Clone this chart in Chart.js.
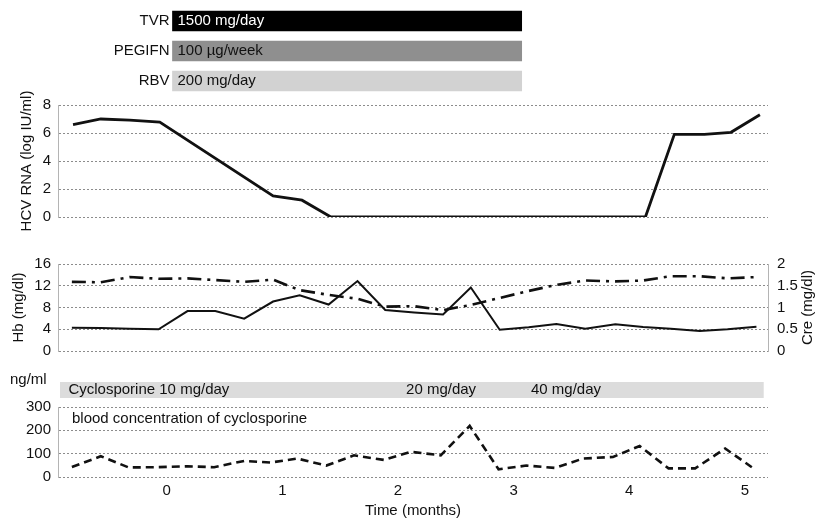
<!DOCTYPE html>
<html>
<head>
<meta charset="utf-8">
<script src="https://cdn.jsdelivr.net/npm/chart.js@4.4.1/dist/chart.umd.min.js"></script>
<style>
  body { margin: 0; background: #fff; }
  #wrap { position: relative; width: 823px; height: 520px; }
  canvas { position: absolute; left: 0; }
</style>
</head>
<body>
<div id="wrap">
  <canvas id="drugs" width="823" height="100" style="top:0px"></canvas>
  <canvas id="hcv" width="823" height="152" style="top:85px"></canvas>
  <canvas id="lab" width="823" height="123" style="top:246px"></canvas>
  <canvas id="dose" width="823" height="30" style="top:372px"></canvas>
  <canvas id="csa" width="823" height="129" style="top:391px"></canvas>
</div>
<script>
// treatment bars (months)
const drugNames = ['TVR', 'PEGIFN', 'RBV'];
const drugDoses = ['1500 mg/day', '100 µg/week', '200 mg/day'];
const drugPeriod = [0.05, 3.07];

// HCV RNA (log IU/ml)
const hcvMonths = [-0.81, -0.57, -0.32, -0.06, 0.92, 1.17, 1.42, 1.9, 2.39, 2.88, 3.37, 3.86, 4.14, 4.39, 4.65, 4.88, 5.13];
const hcvLog = [6.6, 7.0, 6.92, 6.78, 1.5, 1.2, 0, 0, 0, 0, 0, 0, 0, 5.9, 5.9, 6.05, 7.3];

// Hb (mg/dl) and Cre (mg/dl)
const labMonths = [-0.82, -0.57, -0.32, -0.07, 0.18, 0.42, 0.67, 0.92, 1.15, 1.40, 1.65, 1.89, 2.14, 2.39, 2.63, 2.88, 3.13, 3.37, 3.62, 3.88, 4.12, 4.36, 4.61, 4.85, 5.10];
const hbValues = [4.27, 4.25, 4.1, 4.0, 7.34, 7.34, 5.94, 9.1, 10.26, 8.55, 12.86, 7.55, 7.1, 6.7, 11.67, 3.9, 4.37, 4.95, 4.1, 4.9, 4.4, 4.1, 3.7, 4.0, 4.48];
const creValues = [1.59, 1.58, 1.70, 1.66, 1.67, 1.63, 1.59, 1.64, 1.40, 1.29, 1.20, 1.02, 1.03, 0.94, 1.06, 1.22, 1.38, 1.52, 1.62, 1.60, 1.62, 1.72, 1.72, 1.67, 1.70];

// cyclosporine dose and blood concentration (ng/ml)
const csaPeriod = [-0.92, 5.16];
const csaDoseStart = [-0.85, 2.07, 3.15];
const csaDoseLabels = ['Cyclosporine 10 mg/day', '20 mg/day', '40 mg/day'];
const csaMonths = [-0.82, -0.57, -0.33, -0.09, 0.18, 0.41, 0.67, 0.90, 1.13, 1.38, 1.62, 1.88, 2.11, 2.37, 2.62, 2.87, 3.11, 3.36, 3.60, 3.86, 4.09, 4.34, 4.57, 4.83, 5.06];
const csaConc = [43, 89, 41, 42, 46, 42, 69, 62, 79, 49, 93, 73, 108, 93, 219, 33, 49, 39, 79, 86, 133, 37, 37, 122, 42];

const monthTicks = [0, 1, 2, 3, 4, 5];

const FONT = '15px "Liberation Sans", Arial, Helvetica, sans-serif';
Chart.defaults.font.family = '"Liberation Sans", Arial, Helvetica, sans-serif';
Chart.defaults.font.size = 15;
Chart.defaults.color = '#111';

const pts = (xs, ys) => xs.map((x, i) => ({x: x, y: ys[i]}));

function timeAxis(show) {
  return {type: 'linear', min: -0.94, max: 5.2, display: show};
}

function leftAxis(min, max, step, title, titlePad) {
  return {
    min: min, max: max,
    ticks: {stepSize: step, padding: 7, callback: v => String(v)},
    grid: {color: '#8c8c8c', drawTicks: false},
    border: {display: true, color: '#b4b4b4', dash: [2, 2]},
    title: {display: !!title, text: title, padding: {top: titlePad}},
    afterFit: s => { s.width = 58; }
  };
}

// draws plain text on top of a chart
function textPlugin(draw) {
  return {
    id: 'txt',
    afterDraw(chart) {
      const c = chart.ctx;
      c.save();
      c.font = FONT;
      c.fillStyle = '#111';
      c.textBaseline = 'middle';
      draw(chart, c);
      c.restore();
    }
  };
}

const base = {
  responsive: false,
  animation: false,
  plugins: {legend: {display: false}, tooltip: {enabled: false}}
};

// TVR / PEGIFN / RBV
new Chart('drugs', {
  type: 'bar',
  data: {
    labels: drugNames,
    datasets: [{
      data: drugNames.map(() => drugPeriod.slice()),
      backgroundColor: ['#000000', '#8f8f8f', '#d2d2d2'],
      barThickness: 20
    }]
  },
  options: Object.assign({}, base, {
    indexAxis: 'y',
    layout: {padding: {left: 58, right: 55, top: 6, bottom: 4}},
    scales: {x: timeAxis(false), y: {display: false}}
  }),
  plugins: [textPlugin((chart, c) => {
    const x0 = chart.scales.x.getPixelForValue(drugPeriod[0]);
    chart.getDatasetMeta(0).data.forEach((bar, i) => {
      c.textAlign = 'right';
      c.fillStyle = '#111';
      c.fillText(drugNames[i], x0 - 3, bar.y);
      c.textAlign = 'left';
      c.fillStyle = i === 0 ? '#fff' : '#111';
      c.fillText(drugDoses[i], x0 + 5, bar.y);
    });
  })]
});

// HCV RNA
new Chart('hcv', {
  type: 'line',
  data: {
    datasets: [{
      data: pts(hcvMonths, hcvLog),
      borderColor: '#111', borderWidth: 2.8, pointRadius: 0, tension: 0
    }]
  },
  options: Object.assign({}, base, {
    layout: {padding: {left: 0, right: 55, top: 20, bottom: 20}},
    scales: {x: timeAxis(false), y: leftAxis(0, 8, 2, 'HCV RNA (log IU/ml)', 18)}
  })
});

// Hb + Cre
new Chart('lab', {
  type: 'line',
  data: {
    datasets: [{
      data: pts(labMonths, hbValues), yAxisID: 'y',
      borderColor: '#111', borderWidth: 2, pointRadius: 0, tension: 0
    }, {
      data: pts(labMonths, creValues), yAxisID: 'y1',
      borderColor: '#111', borderWidth: 2.6, borderDash: [14, 6, 3, 6], pointRadius: 0, tension: 0
    }]
  },
  options: Object.assign({}, base, {
    layout: {padding: {left: 0, right: 0, top: 10, bottom: 10}},
    scales: {
      x: timeAxis(false),
      y: leftAxis(0, 16, 4, 'Hb (mg/dl)', 10),
      y1: {
        position: 'right', min: 0, max: 2,
        ticks: {stepSize: 0.5, padding: 9, callback: v => String(v)},
        grid: {display: false, drawTicks: false},
        border: {display: true, color: '#b4b4b4'},
        afterFit: s => { s.width = 55; }
      }
    }
  }),
  plugins: [textPlugin((chart, c) => {
    const a = chart.chartArea;
    c.translate(808, (a.top + a.bottom) / 2);
    c.rotate(-Math.PI / 2);
    c.textAlign = 'center';
    c.fillText('Cre (mg/dl)', 0, 0);
  })]
});

// cyclosporine dose band
new Chart('dose', {
  type: 'bar',
  data: {
    labels: [''],
    datasets: [{
      data: [csaPeriod.slice()],
      backgroundColor: '#dcdcdc',
      barPercentage: 1, categoryPercentage: 1
    }]
  },
  options: Object.assign({}, base, {
    indexAxis: 'y',
    layout: {padding: {left: 58, right: 55, top: 10, bottom: 4}},
    scales: {x: timeAxis(false), y: {display: false}}
  }),
  plugins: [textPlugin((chart, c) => {
    const bar = chart.getDatasetMeta(0).data[0];
    c.textAlign = 'left';
    csaDoseLabels.forEach((t, i) => {
      c.fillText(t, chart.scales.x.getPixelForValue(csaDoseStart[i]), bar.y);
    });
    c.fillText('ng/ml', 10, 8);
  })]
});

// cyclosporine concentration
const xBottom = timeAxis(true);
xBottom.afterBuildTicks = s => { s.ticks = monthTicks.map(v => ({value: v})); };
xBottom.ticks = {padding: 5};
xBottom.grid = {display: false, drawTicks: false};
xBottom.border = {display: false};
xBottom.title = {display: true, text: 'Time (months)', padding: {top: 0, bottom: 0}};
xBottom.afterFit = s => { s.height = 43; };

new Chart('csa', {
  type: 'line',
  data: {
    datasets: [{
      data: pts(csaMonths, csaConc),
      borderColor: '#111', borderWidth: 2.6, borderDash: [8, 5], pointRadius: 0, tension: 0
    }]
  },
  options: Object.assign({}, base, {
    layout: {padding: {left: 0, right: 55, top: 10, bottom: 0}},
    scales: {x: xBottom, y: leftAxis(0, 300, 100, '', 0)}
  }),
  plugins: [textPlugin((chart, c) => {
    const a = chart.chartArea;
    c.textAlign = 'left';
    c.fillText('blood concentration of cyclosporine', a.left + 14, a.top + 12);
  })]
});
</script>
</body>
</html>
